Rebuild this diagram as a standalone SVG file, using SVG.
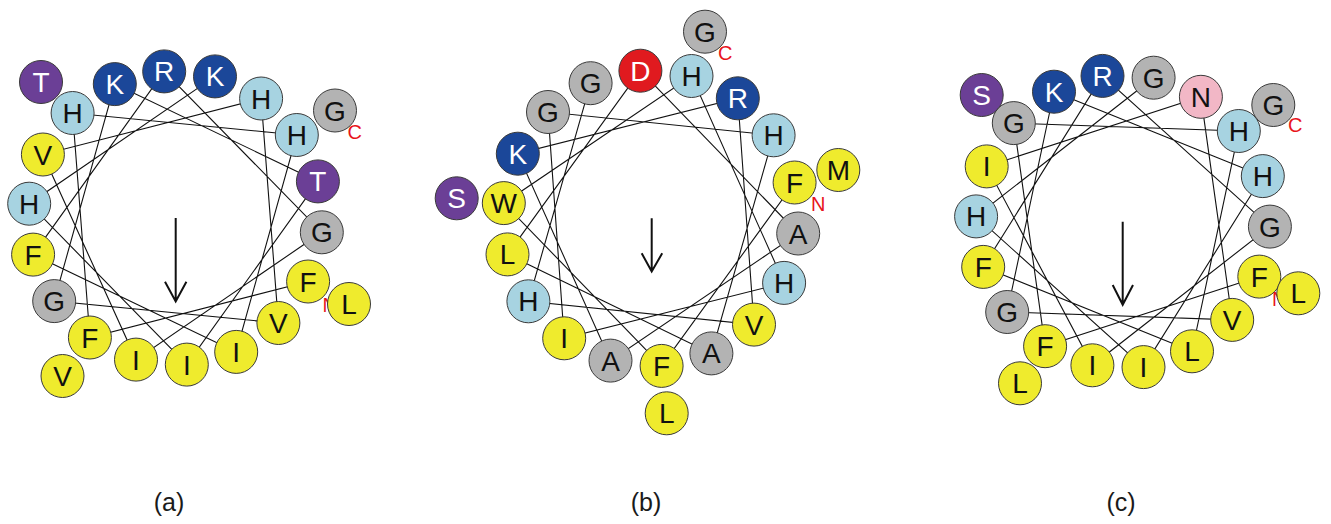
<svg xmlns="http://www.w3.org/2000/svg" width="1331" height="524" viewBox="0 0 1331 524">
  <style>
    .bg { fill: #ffffff; }
    .link { fill: none; stroke: #111111; stroke-width: 1.1; stroke-linejoin: miter; }
    .res circle { stroke: #3a3a3a; stroke-width: 1; }
    .res text { font-family: "Liberation Sans", Arial, sans-serif; font-size: 28px; text-anchor: middle; fill: #111111; }
    .y circle { fill: #EFEB2D; }
    .lb circle { fill: #A7D3E1; }
    .db circle { fill: #1B4799; }
    .pu circle { fill: #6B3F96; }
    .gr circle { fill: #B3B3B3; }
    .rd circle { fill: #E01A1F; }
    .pk circle { fill: #F2B7C6; }
    .db text, .pu text, .rd text { fill: #ffffff; }
    .term { font-family: "Liberation Sans", Arial, sans-serif; font-size: 20px; fill: #E8141B; }
    .moment { fill: none; stroke: #111111; stroke-width: 2; }
    .cap { font-family: "Liberation Sans", Arial, sans-serif; font-size: 25px; text-anchor: middle; fill: #1a1a1a; }
  </style>
  <rect class="bg" x="0" y="0" width="1331" height="524"/>

  <!-- backbone connectors: residue i to i+1 (100 degree steps) -->
  <g id="connectors">
    <polyline id="wheel-a-path" class="link" points="308.1,281.5 89.9,337.5 72.6,113 296.8,135 236.2,351.9 33.1,254.6 164.2,71.4 321.8,232.3 136,359.6 42.9,154.5 261.1,98.5 278.4,323 54.2,301.1 114.8,84.1 317.9,181.4 186.8,364.6 29.2,203.7 215,76.4"/>
    <polyline id="wheel-b-path" class="link" points="794.6,182.5 661.6,365.9 503.8,203.1 691.5,76 784.1,282.9 564.2,338.3 548,112 773.6,135.3 711.4,353.4 507.5,254.4 640.4,70.7 798.2,233.5 610.5,360.6 517.8,153.7 737.8,98.3 754,324.6 528.4,301.3 590.6,83.2"/>
    <polyline id="wheel-c-path" class="link" points="1259.3,276.6 1045.1,346.2 1013.8,123.1 1238.8,131 1192,351.3 983.2,266.9 1102.5,75.9 1269.9,226.6 1092.4,365.3 986.7,166.4 1200.9,96.8 1232.2,319.9 1007.2,312 1054,91.7 1262.8,176.1 1143.5,367.1 976.1,216.4 1153.6,77.7"/>
  </g>

  <!-- wheel (a) -->
  <g id="wheel-a">
    <g id="a20" class="res y" transform="translate(62.5,376)"><circle r="21.5"/><text y="10">V</text></g>
    <g id="a21" class="res pu" transform="translate(41,82)"><circle r="21.5"/><text y="10">T</text></g>
    <g id="a22" class="res gr" transform="translate(335,110.5)"><circle r="21.5"/><text y="10">G</text></g>
    <g id="a1" class="res y" transform="translate(308.1,281.5)"><circle r="21.5"/><text y="10">F</text></g>
    <g id="a2" class="res y" transform="translate(89.9,337.5)"><circle r="21.5"/><text y="10">F</text></g>
    <g id="a3" class="res lb" transform="translate(72.6,113)"><circle r="21.5"/><text y="10">H</text></g>
    <g id="a4" class="res lb" transform="translate(296.8,135)"><circle r="21.5"/><text y="10">H</text></g>
    <g id="a5" class="res y" transform="translate(236.2,351.9)"><circle r="21.5"/><text y="10">I</text></g>
    <g id="a6" class="res y" transform="translate(33.1,254.6)"><circle r="21.5"/><text y="10">F</text></g>
    <g id="a7" class="res db" transform="translate(164.2,71.4)"><circle r="21.5"/><text y="10">R</text></g>
    <g id="a8" class="res gr" transform="translate(321.8,232.3)"><circle r="21.5"/><text y="10">G</text></g>
    <g id="a9" class="res y" transform="translate(136,359.6)"><circle r="21.5"/><text y="10">I</text></g>
    <g id="a10" class="res y" transform="translate(42.9,154.5)"><circle r="21.5"/><text y="10">V</text></g>
    <g id="a11" class="res lb" transform="translate(261.1,98.5)"><circle r="21.5"/><text y="10">H</text></g>
    <g id="a12" class="res y" transform="translate(278.4,323)"><circle r="21.5"/><text y="10">V</text></g>
    <g id="a13" class="res gr" transform="translate(54.2,301.1)"><circle r="21.5"/><text y="10">G</text></g>
    <g id="a14" class="res db" transform="translate(114.8,84.1)"><circle r="21.5"/><text y="10">K</text></g>
    <g id="a15" class="res pu" transform="translate(317.9,181.4)"><circle r="21.5"/><text y="10">T</text></g>
    <g id="a16" class="res y" transform="translate(186.8,364.6)"><circle r="21.5"/><text y="10">I</text></g>
    <g id="a17" class="res lb" transform="translate(29.2,203.7)"><circle r="21.5"/><text y="10">H</text></g>
    <g id="a18" class="res db" transform="translate(215,76.4)"><circle r="21.5"/><text y="10">K</text></g>
    <text class="term" x="322.5" y="312">N</text>
    <g id="a19" class="res y" transform="translate(349,304)"><circle r="21.5"/><text y="10">L</text></g>
    <text class="term" x="347.5" y="138.5">C</text>
    <g id="a-moment"><path class="moment" d="M175.7,218 V301.5 M165,281.7 L175.7,301.5 L186.4,281.7"/></g>
    <text class="cap" x="169" y="511">(a)</text>
  </g>

  <!-- wheel (b) -->
  <g id="wheel-b">
    <g id="b19" class="res y" transform="translate(838.3,170)"><circle r="21.5"/><text y="10">M</text></g>
    <g id="b20" class="res y" transform="translate(666.7,413.3)"><circle r="21.5"/><text y="10">L</text></g>
    <g id="b21" class="res pu" transform="translate(456.7,198.3)"><circle r="21.5"/><text y="10">S</text></g>
    <g id="b22" class="res gr" transform="translate(705,31.7)"><circle r="21.5"/><text y="10">G</text></g>
    <g id="b1" class="res y" transform="translate(794.6,182.5)"><circle r="21.5"/><text y="10">F</text></g>
    <g id="b2" class="res y" transform="translate(661.6,365.9)"><circle r="21.5"/><text y="10">F</text></g>
    <g id="b3" class="res y" transform="translate(503.8,203.1)"><circle r="21.5"/><text y="10">W</text></g>
    <g id="b4" class="res lb" transform="translate(691.5,76)"><circle r="21.5"/><text y="10">H</text></g>
    <g id="b5" class="res lb" transform="translate(784.1,282.9)"><circle r="21.5"/><text y="10">H</text></g>
    <g id="b6" class="res y" transform="translate(564.2,338.3)"><circle r="21.5"/><text y="10">I</text></g>
    <g id="b7" class="res gr" transform="translate(548,112)"><circle r="21.5"/><text y="10">G</text></g>
    <g id="b8" class="res lb" transform="translate(773.6,135.3)"><circle r="21.5"/><text y="10">H</text></g>
    <g id="b9" class="res gr" transform="translate(711.4,353.4)"><circle r="21.5"/><text y="10">A</text></g>
    <g id="b10" class="res y" transform="translate(507.5,254.4)"><circle r="21.5"/><text y="10">L</text></g>
    <g id="b11" class="res rd" transform="translate(640.4,70.7)"><circle r="21.5"/><text y="10">D</text></g>
    <g id="b12" class="res gr" transform="translate(798.2,233.5)"><circle r="21.5"/><text y="10">A</text></g>
    <g id="b13" class="res gr" transform="translate(610.5,360.6)"><circle r="21.5"/><text y="10">A</text></g>
    <g id="b14" class="res db" transform="translate(517.8,153.7)"><circle r="21.5"/><text y="10">K</text></g>
    <g id="b15" class="res db" transform="translate(737.8,98.3)"><circle r="21.5"/><text y="10">R</text></g>
    <g id="b16" class="res y" transform="translate(754,324.6)"><circle r="21.5"/><text y="10">V</text></g>
    <g id="b17" class="res lb" transform="translate(528.4,301.3)"><circle r="21.5"/><text y="10">H</text></g>
    <g id="b18" class="res gr" transform="translate(590.6,83.2)"><circle r="21.5"/><text y="10">G</text></g>
    <text class="term" x="811" y="210.5">N</text>
    <text class="term" x="718" y="60">C</text>
    <g id="b-moment"><path class="moment" d="M651.7,218.3 V271.5 M641.7,253.3 L651.7,271.5 L662.2,253.3"/></g>
    <text class="cap" x="646" y="511">(b)</text>
  </g>

  <!-- wheel (c) -->
  <g id="wheel-c">
    <g id="c20" class="res y" transform="translate(1020,383.3)"><circle r="21.5"/><text y="10">L</text></g>
    <g id="c21" class="res pu" transform="translate(981.7,95)"><circle r="21.5"/><text y="10">S</text></g>
    <g id="c22" class="res gr" transform="translate(1273.3,105)"><circle r="21.5"/><text y="10">G</text></g>
    <g id="c1" class="res y" transform="translate(1259.3,276.6)"><circle r="21.5"/><text y="10">F</text></g>
    <g id="c2" class="res y" transform="translate(1045.1,346.2)"><circle r="21.5"/><text y="10">F</text></g>
    <g id="c3" class="res gr" transform="translate(1013.8,123.1)"><circle r="21.5"/><text y="10">G</text></g>
    <g id="c4" class="res lb" transform="translate(1238.8,131)"><circle r="21.5"/><text y="10">H</text></g>
    <g id="c5" class="res y" transform="translate(1192,351.3)"><circle r="21.5"/><text y="10">L</text></g>
    <g id="c6" class="res y" transform="translate(983.2,266.9)"><circle r="21.5"/><text y="10">F</text></g>
    <g id="c7" class="res db" transform="translate(1102.5,75.9)"><circle r="21.5"/><text y="10">R</text></g>
    <g id="c8" class="res gr" transform="translate(1269.9,226.6)"><circle r="21.5"/><text y="10">G</text></g>
    <g id="c9" class="res y" transform="translate(1092.4,365.3)"><circle r="21.5"/><text y="10">I</text></g>
    <g id="c10" class="res y" transform="translate(986.7,166.4)"><circle r="21.5"/><text y="10">I</text></g>
    <g id="c11" class="res pk" transform="translate(1200.9,96.8)"><circle r="21.5"/><text y="10">N</text></g>
    <g id="c12" class="res y" transform="translate(1232.2,319.9)"><circle r="21.5"/><text y="10">V</text></g>
    <g id="c13" class="res gr" transform="translate(1007.2,312)"><circle r="21.5"/><text y="10">G</text></g>
    <g id="c14" class="res db" transform="translate(1054,91.7)"><circle r="21.5"/><text y="10">K</text></g>
    <g id="c15" class="res lb" transform="translate(1262.8,176.1)"><circle r="21.5"/><text y="10">H</text></g>
    <g id="c16" class="res y" transform="translate(1143.5,367.1)"><circle r="21.5"/><text y="10">I</text></g>
    <g id="c17" class="res lb" transform="translate(976.1,216.4)"><circle r="21.5"/><text y="10">H</text></g>
    <g id="c18" class="res gr" transform="translate(1153.6,77.7)"><circle r="21.5"/><text y="10">G</text></g>
    <text class="term" x="1272" y="305.5">N</text>
    <g id="c19" class="res y" transform="translate(1298.3,293.3)"><circle r="21.5"/><text y="10">L</text></g>
    <text class="term" x="1288" y="131.5">C</text>
    <g id="c-moment"><path class="moment" d="M1122.7,221.7 V304.8 M1112.7,285 L1122.7,304.8 L1133,285"/></g>
    <text class="cap" x="1121" y="511">(c)</text>
  </g>
</svg>
